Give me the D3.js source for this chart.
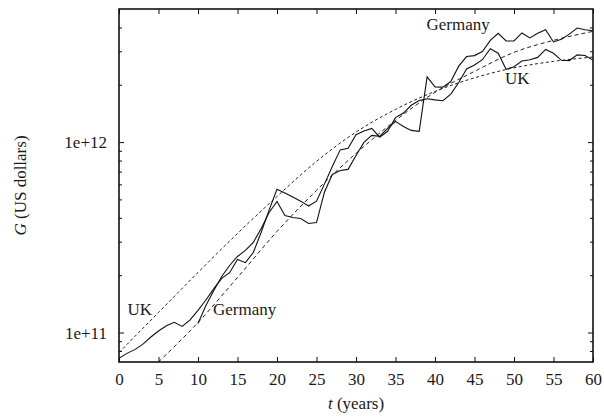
<!DOCTYPE html>
<html>
<head>
<meta charset="utf-8">
<script src="https://cdn.jsdelivr.net/npm/d3@7"></script>
<style>
body { margin: 0; background: #fff; }
text { font-family: "Liberation Serif", "Times New Roman", serif; fill: #1a1a1a; }
</style>
</head>
<body>
<script>
// GDP in billions of US dollars, t = years
const ukStart = 0;
const ukGdp = [73.2, 77.7, 81.3, 86.6, 94.4, 101.8, 108.6, 113.1, 107.7, 116.5,
  130.7, 148.1, 170.0, 192.5, 206.1, 241.8, 232.6, 263.1, 335.9, 439.0,
  565.0, 540.8, 515.0, 489.6, 461.5, 489.3, 601.5, 745.2, 910.1, 926.9,
  1093, 1143, 1180, 1061, 1140, 1344, 1420, 1561, 1654, 1688,
  1666, 1650, 1786, 2054, 2422, 2543, 2708, 3091, 2929, 2413,
  2485, 2664, 2707, 2785, 3065, 2928, 2689, 2680, 2871, 2851, 2698];
const deStart = 10;
const deGdp = [111.5, 138.7, 166.2, 196.9, 224.9, 250.7, 269.8, 297.2, 352, 427,
  488, 412, 402, 397, 374, 378, 545, 676, 710, 719,
  851, 996, 1084, 1071, 1180, 1285, 1209, 1152, 1138, 2200,
  1950, 1945, 2079, 2505, 2814, 2846, 2992, 3421, 3730, 3397,
  3396, 3744, 3527, 3733, 3890, 3357, 3469, 3690, 3975, 3889, 3846];

// fitted curves (dashed)
const ukFitT = [0, 5, 10, 15, 20, 25, 30, 35, 40, 45, 50, 55, 60];
const ukFit = [78.5, 127.4, 206.7, 331.3, 518.3, 791.7, 1128.6, 1485, 1846, 2175, 2454, 2655, 2797];
const deFitT = [5, 10, 15, 20, 25, 30, 35, 40, 45, 50, 55, 60];
const deFit = [70, 112.9, 194.5, 339.4, 557.6, 872.2, 1300, 1824, 2352, 2960, 3422, 3816];

const xTicks = [0, 5, 10, 15, 20, 25, 30, 35, 40, 45, 50, 55, 60];
const yMajor = [100, 1000];
const yLabels = ["1e+11", "1e+12"];
const yMinor = [80, 90, 200, 300, 400, 500, 600, 700, 800, 900, 2000, 3000, 4000];

const w = 604, h = 418;
const pl = 119, pr = 593, pt = 9, pb = 362;

const svg = d3.select("body").append("svg")
  .attr("width", w)
  .attr("height", h);

const x = d3.scaleLinear().domain([0, 60]).range([pl, pr]);
const y = d3.scaleLog().domain([70, 5000]).range([pb, pt]);

svg.append("clipPath").attr("id", "plot")
  .append("rect")
  .attr("x", pl).attr("y", pt)
  .attr("width", pr - pl).attr("height", pb - pt);

const line = d3.line()
  .x(d => x(d[0]))
  .y(d => y(d[1]));
const smooth = d3.line()
  .x(d => x(d[0]))
  .y(d => y(d[1]))
  .curve(d3.curveMonotoneX);

const g = svg.append("g").attr("clip-path", "url(#plot)");

g.append("path")
  .datum(ukFitT.map((t, i) => [t, ukFit[i]]))
  .attr("d", smooth)
  .attr("fill", "none")
  .attr("stroke", "#222")
  .attr("stroke-width", 1)
  .attr("stroke-dasharray", "3,2.5");

g.append("path")
  .datum(deFitT.map((t, i) => [t, deFit[i]]))
  .attr("d", smooth)
  .attr("fill", "none")
  .attr("stroke", "#222")
  .attr("stroke-width", 1)
  .attr("stroke-dasharray", "4,3");

g.append("path")
  .datum(ukGdp.map((v, i) => [ukStart + i, v]))
  .attr("d", line)
  .attr("fill", "none")
  .attr("stroke", "#111")
  .attr("stroke-width", 1.1);

g.append("path")
  .datum(deGdp.map((v, i) => [deStart + i, v]))
  .attr("d", line)
  .attr("fill", "none")
  .attr("stroke", "#111")
  .attr("stroke-width", 1.1);

// axes, ticks pointing inward on all four sides
const xb = svg.append("g")
  .attr("transform", "translate(0," + pb + ")")
  .call(d3.axisBottom(x).tickValues(xTicks).tickSize(-5).tickPadding(0).tickFormat(d => d));
xb.selectAll("text").attr("y", 23).attr("dy", null).style("font-size", "17px");

svg.append("g")
  .attr("transform", "translate(0," + pt + ")")
  .call(d3.axisTop(x).tickValues(xTicks).tickSize(-5).tickFormat(""));

const yl = svg.append("g")
  .attr("transform", "translate(" + pl + ",0)")
  .call(d3.axisLeft(y).tickValues(yMajor).tickSize(-5).tickFormat((d, i) => yLabels[i]));
yl.selectAll("text").attr("x", -12).attr("dy", "0.33em").style("font-size", "17px");

svg.append("g")
  .attr("transform", "translate(" + pl + ",0)")
  .call(d3.axisLeft(y).tickValues(yMinor).tickSize(-3).tickFormat(""));

svg.append("g")
  .attr("transform", "translate(" + pr + ",0)")
  .call(d3.axisRight(y).tickValues(yMajor).tickSize(-5).tickFormat(""));

svg.append("g")
  .attr("transform", "translate(" + pr + ",0)")
  .call(d3.axisRight(y).tickValues(yMinor).tickSize(-3).tickFormat(""));

svg.selectAll(".domain").remove();
svg.selectAll(".tick line").attr("stroke", "#111").attr("stroke-width", 1);

svg.append("rect")
  .attr("x", pl).attr("y", pt)
  .attr("width", pr - pl).attr("height", pb - pt)
  .attr("fill", "none")
  .attr("stroke", "#111")
  .attr("stroke-width", 1.6);

// series labels
const labels = [
  { text: "UK", x: 127.5, y: 315 },
  { text: "Germany", x: 213, y: 315 },
  { text: "Germany", x: 426.5, y: 30 },
  { text: "UK", x: 505, y: 84 }
];
svg.selectAll(".lbl")
  .data(labels)
  .enter()
  .append("text")
  .attr("class", "lbl")
  .attr("x", d => d.x)
  .attr("y", d => d.y)
  .style("font-size", "17px")
  .text(d => d.text);

// axis titles
const xt = svg.append("text")
  .attr("x", (pl + pr) / 2)
  .attr("y", 409)
  .attr("text-anchor", "middle")
  .style("font-size", "17px");
xt.append("tspan").style("font-style", "italic").text("t");
xt.append("tspan").text(" (years)");

const yt = svg.append("text")
  .attr("transform", "translate(26," + (pt + pb) / 2 + ") rotate(-90)")
  .attr("text-anchor", "middle")
  .style("font-size", "17px");
yt.append("tspan").style("font-style", "italic").text("G");
yt.append("tspan").text(" (US dollars)");
</script>
</body>
</html>
